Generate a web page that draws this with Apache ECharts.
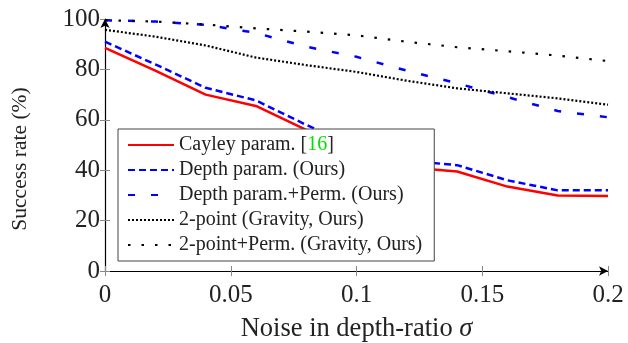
<!DOCTYPE html>
<html>
<head>
<meta charset="utf-8">
<script src="https://cdn.jsdelivr.net/npm/echarts@6/dist/echarts.min.js"></script>
<style>
  html, body { margin: 0; padding: 0; background: #fff; }
  #chart { width: 628px; height: 343px; }
</style>
</head>
<body>
<div id="chart"></div>
<script>
// noise levels (sigma)
var sigma = [0, 0.02, 0.04, 0.06, 0.08, 0.1, 0.12, 0.14, 0.16, 0.18, 0.2];

var cayley      = [88.5, 79.5, 70, 65.5, 56, 47, 41.2, 39.5, 33.5, 30, 29.8];
var depth       = [91, 82, 72.7, 67.7, 58, 49, 43.8, 42, 36, 32, 32];
var depthPerm   = [99.5, 99, 97.7, 94.5, 89, 85, 79.5, 74.5, 69, 63.5, 61];
var twoPoint    = [95.7, 93, 89.5, 84.7, 81.7, 79, 75.5, 72.5, 70.5, 68.5, 66];
var twoPointPerm= [99.5, 99, 97.8, 96.3, 95, 93.5, 91, 88.8, 87.2, 85.5, 83.3];

var seriesNames = [
  'Cayley param. [16]',
  'Depth param. (Ours)',
  'Depth param.+Perm. (Ours)',
  '2-point (Gravity, Ours)',
  '2-point+Perm. (Gravity, Ours)'
];

var xTickLabels = ['0', '0.05', '0.1', '0.15', '0.2'];
var yTickLabels = ['0', '20', '40', '60', '80', '100'];

var serif = '"Liberation Serif", "DejaVu Serif", serif';

function pairs(ys) {
  return ys.map(function (y, i) { return [sigma[i], y]; });
}

function makeSeries(name, ys, color, width, type) {
  return {
    name: name,
    type: 'line',
    data: pairs(ys),
    symbol: 'none',
    smooth: false,
    lineStyle: { color: color, width: width, type: type, cap: 'butt' },
    itemStyle: { color: color },
    emphasis: { disabled: true },
    z: 3
  };
}

var myChart = echarts.init(document.getElementById('chart'));

var option = {
  animation: false,
  grid: { left: 105, right: 20, top: 19, bottom: 72, containLabel: false, outerBoundsMode: 'none' },
  xAxis: [
    {
      type: 'value',
      min: 0, max: 0.2, interval: 0.05,
      name: 'Noise in depth-ratio {i|σ}',
      nameLocation: 'middle',
      nameGap: 45,
      nameTextStyle: {
        fontFamily: serif, fontSize: 26.5, color: '#222',
        rich: { i: { fontFamily: serif, fontStyle: 'italic', fontSize: 26.5, color: '#222' } }
      },
      splitLine: { show: false },
      axisLine: { show: true, lineStyle: { color: '#000', width: 1.2 },
                  symbol: ['none', 'arrow'], symbolSize: [7, 9] },
      axisTick: { show: true, length: 5, lineStyle: { color: '#888' } },
      axisLabel: {
        fontFamily: serif, fontSize: 25, color: '#222', margin: 12,
        formatter: function (v, i) { return xTickLabels[i]; }
      }
    },
    {
      type: 'value', position: 'bottom',
      min: 0, max: 0.2, interval: 0.05,
      axisLine: { show: false },
      axisTick: { show: true, inside: true, length: 5, lineStyle: { color: '#888' } },
      axisLabel: { show: false },
      splitLine: { show: false }
    }
  ],
  yAxis: [
    {
      type: 'value',
      min: 0, max: 100, interval: 20,
      name: 'Success rate (%)',
      nameLocation: 'middle',
      nameGap: 74,
      nameTextStyle: { fontFamily: serif, fontSize: 21.5, color: '#222', padding: [0, 28, 0, 0] },
      splitLine: { show: false },
      axisLine: { show: true, lineStyle: { color: '#000', width: 1.2 },
                  symbol: ['none', 'arrow'], symbolSize: [7, 9] },
      axisTick: { show: true, length: 5, lineStyle: { color: '#888' } },
      axisLabel: {
        fontFamily: serif, fontSize: 25, color: '#222', margin: 5,
        formatter: function (v, i) { return yTickLabels[i]; }
      }
    },
    {
      type: 'value', position: 'left',
      min: 0, max: 100, interval: 20,
      axisLine: { show: false },
      axisTick: { show: true, inside: true, length: 5, lineStyle: { color: '#888' } },
      axisLabel: { show: false },
      splitLine: { show: false }
    }
  ],
  legend: {
    orient: 'vertical',
    left: 118,
    top: 129,
    padding: [6, 12, 6, 9],
    itemGap: 5,
    itemWidth: 46,
    itemHeight: 20,
    backgroundColor: '#fff',
    borderColor: '#444',
    borderWidth: 1,
    borderRadius: 0,
    z: 10,
    data: seriesNames,
    itemStyle: { opacity: 0 },
    textStyle: {
      fontFamily: serif, fontSize: 20, color: '#222',
      rich: {
        g: { fontFamily: serif, fontSize: 20, color: '#00e000' },
        t: { fontFamily: serif, fontSize: 20, color: '#222' }
      }
    },
    formatter: function (name) {
      if (name === seriesNames[0]) return '{t|Cayley param. [}{g|16}{t|]}';
      return name;
    }
  },
  series: [
    makeSeries(seriesNames[0], cayley, '#ff0000', 2.5, 'solid'),
    makeSeries(seriesNames[1], depth, '#0000ff', 2.5, [7, 4]),
    makeSeries(seriesNames[2], depthPerm, '#0000ff', 2.5, [7, 16]),
    makeSeries(seriesNames[3], twoPoint, '#000000', 2.2, [2, 2]),
    makeSeries(seriesNames[4], twoPointPerm, '#000000', 2.2, [2.5, 11])
  ]
};

myChart.setOption(option);
window.addEventListener('resize', function () { myChart.resize(); });
</script>
</body>
</html>
